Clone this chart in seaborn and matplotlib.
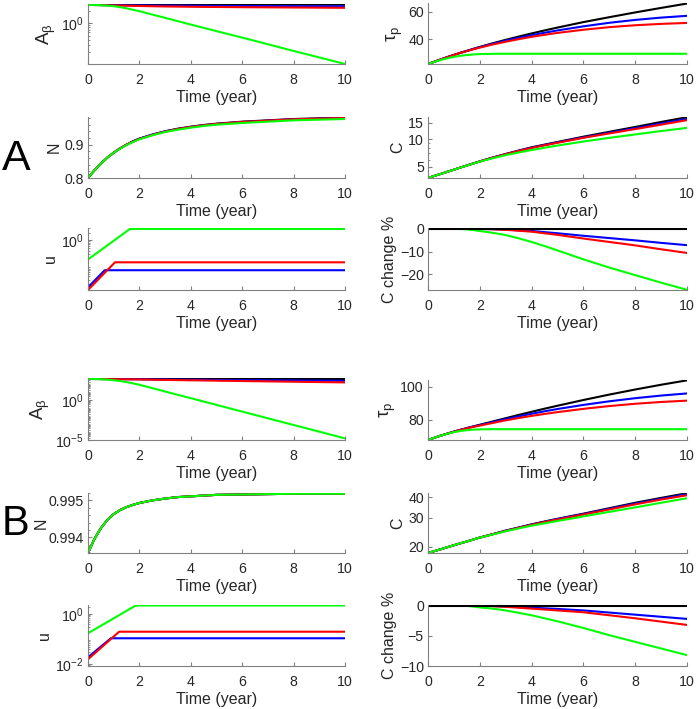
import matplotlib
matplotlib.use('Agg')
import matplotlib.pyplot as plt
import matplotlib.ticker as mticker
import seaborn as sns

sns.set_style('ticks')
plt.rcParams['font.family'] = ['Liberation Sans', 'DejaVu Sans']
plt.rcParams['mathtext.fontset'] = 'custom'
plt.rcParams['mathtext.rm'] = 'Liberation Sans'
plt.rcParams['mathtext.it'] = 'Liberation Sans:italic'
plt.rcParams['mathtext.default'] = 'regular'

# time grid (years)
t = [0, 0.25, 0.5, 0.75, 1, 1.25, 1.5, 1.75, 2, 2.5, 3, 3.5, 4, 4.5, 5, 6, 7, 8, 9, 10]

# ---- panel A ----
a_ab_black = [2.75, 2.75, 2.76, 2.76, 2.77, 2.77, 2.77, 2.78, 2.78, 2.78, 2.78, 2.79, 2.79, 2.79, 2.79, 2.79, 2.80, 2.80, 2.80, 2.80]
a_ab_blue = [2.75, 2.75, 2.74, 2.73, 2.72, 2.71, 2.70, 2.69, 2.68, 2.66, 2.65, 2.64, 2.63, 2.62, 2.61, 2.60, 2.58, 2.57, 2.56, 2.55]
a_ab_red = [2.75, 2.74, 2.72, 2.70, 2.68, 2.66, 2.64, 2.62, 2.60, 2.56, 2.53, 2.51, 2.49, 2.47, 2.46, 2.43, 2.41, 2.39, 2.37, 2.35]
a_ab_green = [2.75, 2.75, 2.71, 2.65, 2.57, 2.44, 2.28, 2.11, 1.95, 1.62, 1.35, 1.12, 0.93, 0.776, 0.646, 0.452, 0.313, 0.216, 0.151, 0.105]

a_tau_black = [21.7, 23.4, 25.1, 26.8, 28.4, 29.9, 31.3, 32.8, 34.2, 36.9, 39.4, 41.8, 44.1, 46.3, 48.4, 52.4, 56.0, 59.5, 62.8, 66.0]
a_tau_blue = [21.7, 23.4, 25.1, 26.8, 28.4, 29.9, 31.3, 32.7, 34.0, 36.5, 38.8, 40.9, 42.8, 44.6, 46.3, 49.3, 51.9, 54.0, 55.7, 57.0]
a_tau_red = [21.7, 23.4, 25.1, 26.7, 28.3, 29.8, 31.2, 32.5, 33.7, 36.0, 38.0, 39.9, 41.6, 43.1, 44.5, 46.8, 48.7, 50.1, 51.1, 51.8]
a_tau_green = [21.7, 23.3, 24.7, 25.9, 26.9, 27.7, 28.3, 28.7, 29.0, 29.15, 29.2, 29.2, 29.2, 29.2, 29.2, 29.2, 29.2, 29.2, 29.2, 29.2]

a_n_black = [0.800, 0.823, 0.843, 0.861, 0.876, 0.889, 0.900, 0.910, 0.918, 0.930, 0.940, 0.948, 0.954, 0.959, 0.963, 0.969, 0.973, 0.977, 0.979, 0.981]
a_n_blue = [0.800, 0.823, 0.843, 0.861, 0.876, 0.889, 0.900, 0.910, 0.918, 0.930, 0.940, 0.947, 0.953, 0.958, 0.962, 0.968, 0.972, 0.976, 0.978, 0.980]
a_n_red = [0.800, 0.823, 0.843, 0.861, 0.876, 0.889, 0.900, 0.909, 0.917, 0.929, 0.939, 0.947, 0.953, 0.958, 0.962, 0.968, 0.972, 0.976, 0.978, 0.980]
a_n_green = [0.800, 0.823, 0.843, 0.861, 0.876, 0.888, 0.899, 0.908, 0.916, 0.928, 0.938, 0.945, 0.951, 0.956, 0.960, 0.965, 0.969, 0.973, 0.975, 0.977]

a_c_black = [3.79, 4.0, 4.2, 4.43, 4.66, 4.92, 5.17, 5.45, 5.73, 6.3, 6.89, 7.5, 8.14, 8.7, 9.29, 10.6, 11.96, 13.5, 15.3, 17.2]
a_c_blue = [3.79, 4.0, 4.2, 4.43, 4.66, 4.92, 5.17, 5.45, 5.73, 6.3, 6.87, 7.45, 8.05, 8.62, 9.2, 10.4, 11.7, 13.1, 14.7, 16.5]
a_c_red = [3.79, 4.0, 4.2, 4.43, 4.66, 4.92, 5.17, 5.44, 5.72, 6.28, 6.85, 7.42, 8.0, 8.55, 9.1, 10.3, 11.5, 12.8, 14.3, 16.0]
a_c_green = [3.79, 4.0, 4.2, 4.43, 4.66, 4.91, 5.16, 5.43, 5.7, 6.2, 6.7, 7.15, 7.6, 8.05, 8.5, 9.4, 10.3, 11.2, 12.2, 13.2]

a_u_green_t = [0, 1.63, 10]
a_u_green = [0.18, 2.75, 2.75]
a_u_red_t = [0, 1.05, 10]
a_u_red = [0.0118, 0.14, 0.14]
a_u_blue_t = [0, 0.65, 10]
a_u_blue = [0.015, 0.069, 0.069]

a_dc_black = [0] * 20
a_dc_blue = [0, 0, 0, 0, 0, -0.01, -0.02, -0.04, -0.08, -0.2, -0.4, -0.7, -1.0, -1.5, -2.0, -3.1, -4.1, -5.1, -6.2, -7.2]
a_dc_red = [0, 0, 0, 0, 0, -0.01, -0.03, -0.06, -0.1, -0.25, -0.5, -0.9, -1.3, -2.0, -2.7, -4.3, -5.8, -7.3, -9.0, -10.6]
a_dc_green = [0, 0, 0, -0.01, -0.05, -0.12, -0.3, -0.6, -1.0, -1.8, -2.8, -4.2, -5.8, -7.6, -9.5, -13.4, -17.0, -20.3, -23.6, -26.7]

# ---- panel B ----
b_ab_black = [427] * 20
b_ab_blue = [427, 425, 420, 415, 410, 405, 400, 395, 390, 375, 362, 351, 340, 330, 320, 303, 288, 274, 262, 251]
b_ab_red = [427, 421, 415, 408, 400, 392, 385, 378, 370, 345, 325, 307, 290, 275, 260, 235, 212, 192, 174, 158]
b_ab_green = [427, 422, 398, 355, 295, 234, 174, 120, 79.4, 30.2, 11.5, 4.37, 1.68, 0.646, 0.245,
              0.0355, 0.00513, 7.5e-4, 1.1e-4, 1.58e-5]

b_tau_black = [67.6, 69.0, 70.3, 71.5, 72.7, 73.8, 74.9, 75.9, 76.9, 78.9, 80.9, 82.9, 84.8, 86.7, 88.5, 92.0, 95.3, 98.4, 101.3, 104.0]
b_tau_blue = [67.6, 69.0, 70.3, 71.5, 72.7, 73.8, 74.8, 75.8, 76.7, 78.5, 80.3, 82.0, 83.6, 85.1, 86.5, 89.0, 91.2, 93.1, 94.7, 96.0]
b_tau_red = [67.6, 69.0, 70.3, 71.5, 72.6, 73.7, 74.7, 75.6, 76.4, 78.0, 79.6, 81.0, 82.3, 83.5, 84.6, 86.6, 88.3, 89.7, 90.8, 91.6]
b_tau_green = [67.6, 69.0, 70.3, 71.4, 72.4, 73.1, 73.6, 73.9, 74.1, 74.2, 74.2, 74.2, 74.2, 74.2, 74.2, 74.2, 74.2, 74.2, 74.2, 74.2]

b_n_black = [0.99358, 0.99396, 0.99425, 0.99447, 0.99463, 0.99474, 0.99482, 0.99488, 0.99493, 0.99500,
             0.99505, 0.99509, 0.99511, 0.99513, 0.99515, 0.99516, 0.99517, 0.99518, 0.99518, 0.99518]
b_n_blue = b_n_black
b_n_red = b_n_black
b_n_green = b_n_black

b_c_black = [18.3, 18.8, 19.3, 19.85, 20.4, 20.95, 21.5, 22.1, 22.7, 23.8, 25.0, 26.1, 27.3, 28.4, 29.5, 31.7, 34.2, 36.9, 39.5, 42.2]
b_c_blue = [18.3, 18.8, 19.3, 19.85, 20.4, 20.95, 21.5, 22.1, 22.7, 23.8, 25.0, 26.1, 27.2, 28.3, 29.4, 31.5, 33.9, 36.5, 39.0, 41.6]
b_c_red = [18.3, 18.8, 19.3, 19.85, 20.4, 20.95, 21.5, 22.1, 22.7, 23.8, 24.9, 26.0, 27.1, 28.2, 29.2, 31.3, 33.6, 36.1, 38.6, 41.0]
b_c_green = [18.3, 18.8, 19.3, 19.85, 20.4, 20.95, 21.5, 22.1, 22.7, 23.7, 24.8, 25.8, 26.8, 27.7, 28.6, 30.5, 32.5, 34.6, 36.9, 39.3]

b_u_green_t = [0, 1.86, 10]
b_u_green = [0.17, 2.2, 2.2]
b_u_red_t = [0, 1.21, 10]
b_u_red = [0.0154, 0.196, 0.196]
b_u_blue_t = [0, 0.89, 10]
b_u_blue = [0.0186, 0.107, 0.107]

b_dc_black = [0] * 20
b_dc_blue = [0, 0, 0, 0, 0, 0, 0, -0.01, -0.02, -0.06, -0.15, -0.25, -0.35, -0.45, -0.55, -0.8, -1.15, -1.5, -1.85, -2.2]
b_dc_red = [0, 0, 0, 0, 0, 0, 0, -0.01, -0.03, -0.1, -0.2, -0.35, -0.5, -0.65, -0.8, -1.1, -1.6, -2.1, -2.65, -3.2]
b_dc_green = [0, 0, 0, 0, -0.01, -0.02, -0.05, -0.15, -0.3, -0.5, -0.8, -1.2, -1.6, -2.1, -2.6, -3.7, -4.9, -6.0, -7.1, -8.2]

BLACK, BLUE, RED, GREEN = '#000000', '#0000ff', '#ff0000', '#00ff00'
AXCOL = '#808080'
TXTCOL = '#262626'

W, H = 696, 709
fig = plt.figure(figsize=(W / 100, H / 100), dpi=100)


def make_ax(x0, x1, ytop, ybot):
    return fig.add_axes([x0 / W, 1 - ybot / H, (x1 - x0) / W, (ybot - ytop) / H])


def draw(ax, series):
    for xs, ys, col in series:
        sns.lineplot(x=xs, y=ys, color=col, lw=1.5, ax=ax, legend=False, sort=False)


def style(ax, ylabel, ylim, yticks, yticklabels=None, log=False, minor=False, ylsize=11.5, ylpad=2):
    if log:
        ax.set_yscale('log')
        ax.yaxis.set_minor_locator(mticker.LogLocator(base=10, subs=range(2, 10), numticks=50))
        ax.yaxis.set_minor_formatter(mticker.NullFormatter())
    elif minor:
        ax.yaxis.set_minor_locator(mticker.AutoMinorLocator(5))
    ax.set_xlim(0, 10)
    ax.set_ylim(*ylim)
    ax.set_xticks([0, 2, 4, 6, 8, 10])
    ax.set_yticks(yticks)
    if yticklabels is not None:
        ax.set_yticklabels(yticklabels)
    ax.set_xlabel('Time (year)', fontsize=11.5, color=TXTCOL, labelpad=2)
    ax.set_ylabel(ylabel, fontsize=ylsize, color=TXTCOL, labelpad=ylpad)
    for s in ['top', 'right']:
        ax.spines[s].set_visible(False)
    for s in ['left', 'bottom']:
        ax.spines[s].set_color(AXCOL)
        ax.spines[s].set_linewidth(0.8)
    ax.tick_params(which='major', direction='in', length=3, width=0.8, color=AXCOL,
                   labelsize=10.2, labelcolor=TXTCOL, pad=3)
    ax.tick_params(axis='x', which='major', pad=6.5)
    ax.tick_params(which='minor', direction='in', length=1.5, width=0.6, color=AXCOL)
    ax.tick_params(axis='x', which='minor', bottom=False)


LX0, LX1 = 88, 345
RX0, RX1 = 428, 687
rows = [(4, 64), (117, 178), (228, 290), (378, 440), (493, 553), (605, 666)]

# ---- A, left column ----
ax = make_ax(LX0, LX1, *rows[0])
draw(ax, [(t, a_ab_black, BLACK), (t, a_ab_blue, BLUE), (t, a_ab_red, RED), (t, a_ab_green, GREEN)])
style(ax, r'A$_{\beta}$', (0.105, 2.9), [1], ['$10^{0}$'], log=True, ylsize=13.5)

ax = make_ax(LX0, LX1, *rows[1])
draw(ax, [(t, a_n_black, BLACK), (t, a_n_blue, BLUE), (t, a_n_red, RED), (t, a_n_green, GREEN)])
style(ax, 'N', (0.8, 0.983), [0.8, 0.9], ['0.8', '0.9'], minor=True)

ax = make_ax(LX0, LX1, *rows[2])
draw(ax, [(a_u_blue_t, a_u_blue, BLUE), (a_u_red_t, a_u_red, RED), (a_u_green_t, a_u_green, GREEN)])
style(ax, 'u', (0.0118, 3.0), [1], ['$10^{0}$'], log=True)

# ---- A, right column ----
ax = make_ax(RX0, RX1, 3, 64)
draw(ax, [(t, a_tau_black, BLACK), (t, a_tau_blue, BLUE), (t, a_tau_red, RED), (t, a_tau_green, GREEN)])
style(ax, r'$\tau_{p}$', (21.7, 66.4), [40, 60], ylsize=13.5)

ax = make_ax(RX0, RX1, *rows[1])
draw(ax, [(t, a_c_black, BLACK), (t, a_c_blue, BLUE), (t, a_c_red, RED), (t, a_c_green, GREEN)])
style(ax, 'C', (3.79, 17.3), [5, 10, 15], ['5', '10', '15'], log=True)

ax = make_ax(RX0, RX1, *rows[2])
draw(ax, [(t, a_dc_blue, BLUE), (t, a_dc_red, RED), (t, a_dc_green, GREEN), (t, a_dc_black, BLACK)])
style(ax, 'C change %', (-26.8, 0.3), [-20, -10, 0])

# ---- B, left column ----
ax = make_ax(LX0, LX1, *rows[3])
draw(ax, [(t, b_ab_black, BLACK), (t, b_ab_blue, BLUE), (t, b_ab_red, RED), (t, b_ab_green, GREEN)])
style(ax, r'A$_{\beta}$', (1e-5, 562), [1e-5, 1], ['$10^{-5}$', '$10^{0}$'], log=True, ylsize=13.5)

ax = make_ax(LX0, LX1, *rows[4])
draw(ax, [(t, b_n_black, BLACK), (t, b_n_blue, BLUE), (t, b_n_red, RED), (t, b_n_green, GREEN)])
style(ax, 'N', (0.99358, 0.99520), [0.994, 0.995], ['0.994', '0.995'], minor=True, ylpad=0)

ax = make_ax(LX0, LX1, *rows[5])
draw(ax, [(b_u_blue_t, b_u_blue, BLUE), (b_u_red_t, b_u_red, RED), (b_u_green_t, b_u_green, GREEN)])
style(ax, 'u', (0.0083, 2.3), [1e-2, 1], ['$10^{-2}$', '$10^{0}$'], log=True)

# ---- B, right column ----
ax = make_ax(RX0, RX1, 380, 440)
draw(ax, [(t, b_tau_black, BLACK), (t, b_tau_blue, BLUE), (t, b_tau_red, RED), (t, b_tau_green, GREEN)])
style(ax, r'$\tau_{p}$', (67.6, 104.2), [80, 100], ylsize=13.5)

ax = make_ax(RX0, RX1, *rows[4])
draw(ax, [(t, b_c_black, BLACK), (t, b_c_blue, BLUE), (t, b_c_red, RED), (t, b_c_green, GREEN)])
style(ax, 'C', (18.3, 42.3), [20, 30, 40], ['20', '30', '40'], log=True)

ax = make_ax(RX0, RX1, *rows[5])
draw(ax, [(t, b_dc_blue, BLUE), (t, b_dc_red, RED), (t, b_dc_green, GREEN), (t, b_dc_black, BLACK)])
style(ax, 'C change %', (-10, 0.1), [-10, -5, 0])

# panel letters
fig.text(2 / W, 1 - 170 / H, 'A', fontsize=31, va='baseline', ha='left', color='black')
fig.text(2 / W, 1 - 535 / H, 'B', fontsize=30, va='baseline', ha='left', color='black')

fig.savefig('out.png', dpi=100)
